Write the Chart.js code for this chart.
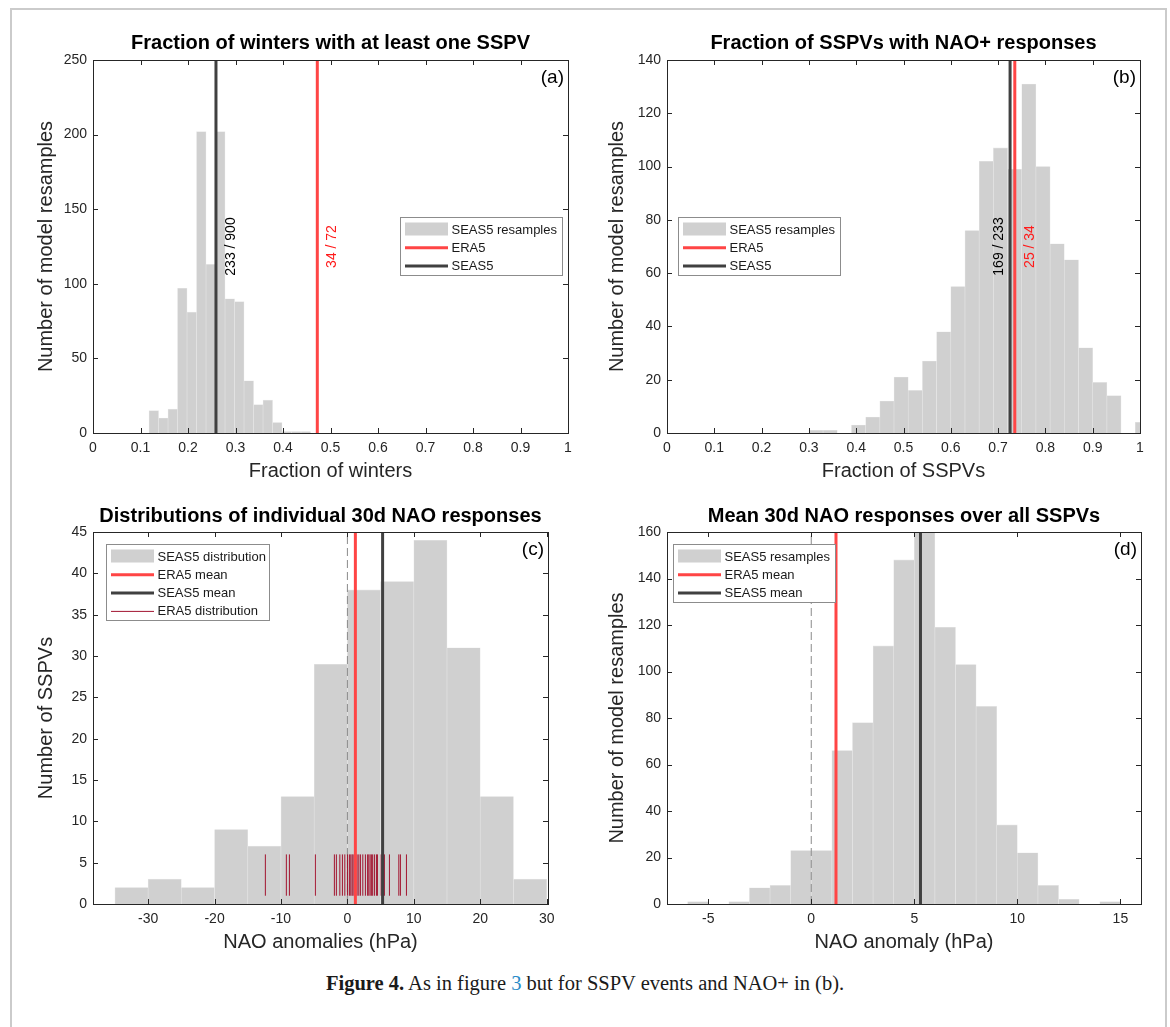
<!DOCTYPE html>
<html>
<head>
<meta charset="utf-8">
<script src="https://cdn.jsdelivr.net/npm/chart.js@4.4.1/dist/chart.umd.min.js"></script>
<style>
  body { margin: 0; width: 1170px; height: 1027px; background: #fff; position: relative; overflow: hidden; }
  #frame { position: absolute; left: 10px; top: 8px; width: 1157px; height: 1040px; border: 2px solid #cbcbcb; box-sizing: border-box; }
  canvas { position: absolute; }
  #caption { position: absolute; left: 0; top: 971px; width: 1170px; text-align: center;
             font-family: "Liberation Serif", "Times New Roman", serif; font-size: 20.5px; line-height: 24px; color: #1a1a1a; }
  #caption .ref { color: #2a8bc8; }
</style>
</head>
<body>
<div id="frame"></div>
<canvas id="pa"></canvas>
<canvas id="pb"></canvas>
<canvas id="pc"></canvas>
<canvas id="pd"></canvas>
<div id="caption"><b>Figure 4.</b> As in figure <span class="ref">3</span> but for SSPV events and NAO+ in (b).</div>

<script>
// (a) winters with at least one SSPV, 1000 model resamples
const winterBinStart = 0.118, winterBinWidth = 0.02;
const winterCounts = [15, 10, 16, 97, 81, 202, 113, 202, 90, 88, 35, 19, 22, 7, 1, 1, 1];
const winterEra5 = [34, 72];
const winterSeas5 = [233, 900];

// (b) SSPVs followed by NAO+
const naoPlusBinStart = 0.30, naoPlusBinWidth = 0.03;
const naoPlusCounts = [1, 1, 0, 3, 6, 12, 21, 16, 27, 38, 55, 76, 102, 107, 99, 131, 100, 71, 65, 32, 19, 14, 0, 4];
const naoPlusEra5 = [25, 34];
const naoPlusSeas5 = [169, 233];

// (c) individual 30d NAO responses (hPa)
const indivBinStart = -35, indivBinWidth = 5;
const indivCounts = [2, 3, 2, 9, 7, 13, 29, 38, 39, 44, 31, 13, 3];
const era5Responses = [-12.35, -9.19, -8.73, -4.82, -1.96, -1.66, -1.14, -0.75, -0.39, 0.02,
  0.30, 0.51, 0.71, 0.86, 1.23, 1.46, 1.72, 1.96, 2.32, 2.71, 3.04, 3.22, 3.42, 3.61,
  3.80, 4.07, 4.37, 4.52, 5.08, 5.57, 6.33, 7.74, 7.98, 8.89];

// (d) mean 30d NAO response over all SSPVs (hPa)
const meanBinStart = -6, meanBinWidth = 1;
const meanCounts = [1, 0, 1, 7, 8, 23, 23, 66, 78, 111, 148, 160, 119, 103, 85, 34, 22, 8, 2, 0, 1];
const era5MeanNao = 1.2;
const seas5MeanNao = 5.3;

// axis ticks
const fracTicks = [0, 0.1, 0.2, 0.3, 0.4, 0.5, 0.6, 0.7, 0.8, 0.9, 1];
const winterCountTicks = [0, 50, 100, 150, 200, 250];
const naoPlusCountTicks = [0, 20, 40, 60, 80, 100, 120, 140];
const indivTicks = [-30, -20, -10, 0, 10, 20, 30];
const indivCountTicks = [0, 5, 10, 15, 20, 25, 30, 35, 40, 45];
const meanTicks = [-5, 0, 5, 10, 15];
const meanCountTicks = [0, 20, 40, 60, 80, 100, 120, 140, 160];

const FONT = '"Liberation Sans", Arial, Helvetica, sans-serif';
const GREY = '#d0d0d0', RED = '#ff4545', DARK = '#404040', CRIMSON = '#a2142f';

Chart.defaults.font.family = FONT;
Chart.defaults.color = '#262626';

function binned(start, width, counts) {
  return counts.map((c, i) => ({x: start + (i + 0.5) * width, y: c}));
}

function histogram(start, width, counts) {
  return {type: 'bar', data: binned(start, width, counts), backgroundColor: GREY,
    borderColor: '#e6e6e6', borderWidth: 0.6, borderSkipped: 'bottom',
    barPercentage: 1, categoryPercentage: 1, order: 10};
}

function vline(v, ymax, color, width, order, dash) {
  return {type: 'line', data: [{x: v, y: 0}, {x: v, y: ymax}], borderColor: color,
    borderWidth: width, borderDash: dash || [], pointRadius: 0, fill: false, order};
}

function rug(values, lo, hi) {
  const pts = [];
  values.forEach(v => pts.push({x: v, y: lo}, {x: v, y: hi}, {x: v, y: null}));
  return {type: 'line', data: pts, borderColor: CRIMSON, borderWidth: 1, pointRadius: 0,
    spanGaps: false, fill: false, order: 3};
}

const ratio = p => p[0] / p[1];
const ratioText = p => p[0] + ' / ' + p[1];

function buildPanel(id, s) {
  const cv = document.getElementById(id);
  const W = s.box.w, H = s.box.h;
  cv.width = W; cv.height = H;
  cv.style.left = s.box.left + 'px';
  cv.style.top = s.box.top + 'px';
  const a = {l: s.area.l - s.box.left, t: s.area.t - s.box.top, r: s.area.r - s.box.left, b: s.area.b - s.box.top};
  const titleY = s.titleY - s.box.top;
  const xTitleY = s.xTitleY - s.box.top;
  const yTitleX = s.yTitleX - s.box.left;

  // axes box, inward ticks, legend, panel letter, rotated count labels
  const decor = {
    id: 'decor',
    afterDraw(chart) {
      const ctx = chart.ctx, ca = chart.chartArea, xs = chart.scales.x, ys = chart.scales.y;
      ctx.save();

      (s.tags || []).forEach(t => {
        const x = xs.getPixelForValue(t.value) + t.dx;
        const y = ys.getPixelForValue(ys.max / 2);
        ctx.save();
        ctx.translate(x, y);
        ctx.rotate(-Math.PI / 2);
        ctx.font = '14px ' + FONT;
        ctx.fillStyle = t.color;
        ctx.textAlign = 'center';
        ctx.textBaseline = 'middle';
        ctx.fillText(t.text, 0, 0);
        ctx.restore();
      });

      ctx.strokeStyle = '#262626';
      ctx.lineWidth = 1;
      ctx.beginPath();
      xs.ticks.forEach(t => {
        const px = Math.round(xs.getPixelForValue(t.value)) + 0.5;
        ctx.moveTo(px, ca.bottom); ctx.lineTo(px, ca.bottom - 5);
        ctx.moveTo(px, ca.top); ctx.lineTo(px, ca.top + 5);
      });
      ys.ticks.forEach(t => {
        const py = Math.round(ys.getPixelForValue(t.value)) + 0.5;
        ctx.moveTo(ca.left, py); ctx.lineTo(ca.left + 5, py);
        ctx.moveTo(ca.right, py); ctx.lineTo(ca.right - 5, py);
      });
      ctx.stroke();
      ctx.strokeRect(ca.left + 0.5, ca.top + 0.5, ca.right - ca.left, ca.bottom - ca.top);

      const lg = s.legend;
      const lx = Math.round(lg.x - s.box.left), ly = Math.round(lg.y - s.box.top);
      ctx.fillStyle = '#fff';
      ctx.fillRect(lx, ly, lg.w, lg.h);
      ctx.strokeStyle = '#8c8c8c';
      ctx.lineWidth = 1;
      ctx.strokeRect(lx + 0.5, ly + 0.5, lg.w, lg.h);
      ctx.font = '13px ' + FONT;
      ctx.textAlign = 'left';
      ctx.textBaseline = 'middle';
      lg.items.forEach((it, i) => {
        const cy = ly + 12.5 + i * 18.3;
        if (it.patch) {
          ctx.fillStyle = it.color;
          ctx.fillRect(lx + 5, cy - 7, 43, 13);
        } else {
          ctx.strokeStyle = it.color;
          ctx.lineWidth = it.width;
          ctx.beginPath();
          ctx.moveTo(lx + 5, cy); ctx.lineTo(lx + 48, cy);
          ctx.stroke();
        }
        ctx.fillStyle = '#1a1a1a';
        ctx.fillText(it.label, lx + 51.5, cy + 0.5);
      });

      ctx.font = '19px ' + FONT;
      ctx.textAlign = 'right';
      ctx.fillStyle = '#000';
      ctx.fillText(s.letter, ca.right - 4, ca.top + 18);
      ctx.restore();
    }
  };

  const fmt = v => String(+Number(v).toFixed(2));

  return new Chart(cv, {
    type: 'bar',
    data: {datasets: s.datasets},
    options: {
      responsive: false,
      animation: false,
      events: [],
      layout: {padding: {left: 0, top: 0, right: W - a.r, bottom: 0}},
      plugins: {
        legend: {display: false},
        tooltip: {enabled: false},
        title: {
          display: true, fullSize: false, text: s.title, color: '#000',
          font: {size: 20, weight: 'bold', lineHeight: '24px'},
          padding: {top: titleY - 12, bottom: a.t - titleY - 12}
        }
      },
      scales: {
        x: {
          type: 'linear', min: s.xMin, max: s.xMax, offset: false,
          grid: {display: false, drawTicks: false}, border: {display: false},
          afterBuildTicks: sc => { sc.ticks = s.xTicks.map(v => ({value: v})); },
          afterFit: sc => { sc.height = H - a.b; },
          ticks: {autoSkip: false, maxRotation: 0, padding: 7, font: {size: 14}, color: '#262626', callback: fmt},
          title: {display: true, text: s.xTitle, color: '#262626', font: {size: 20, lineHeight: '24px'},
                  padding: {top: 0, bottom: H - xTitleY - 12}}
        },
        y: {
          type: 'linear', min: 0, max: s.yMax,
          grid: {display: false, drawTicks: false}, border: {display: false},
          afterBuildTicks: sc => { sc.ticks = s.yTicks.map(v => ({value: v})); },
          afterFit: sc => { sc.width = a.l; },
          ticks: {autoSkip: false, padding: 6, font: {size: 14}, color: '#262626', callback: fmt},
          title: {display: true, text: s.yTitle, color: '#262626', font: {size: 20, lineHeight: '24px'},
                  padding: {top: yTitleX - 12, bottom: 0}}
        }
      }
    },
    plugins: [decor]
  });
}

buildPanel('pa', {
  box: {left: 14, top: 14, w: 576, h: 473},
  area: {l: 93, t: 60, r: 568, b: 433},
  titleY: 43, xTitleY: 471, yTitleX: 46,
  title: 'Fraction of winters with at least one SSPV',
  xTitle: 'Fraction of winters', yTitle: 'Number of model resamples',
  xMin: 0, xMax: 1, yMax: 250, xTicks: fracTicks, yTicks: winterCountTicks,
  letter: '(a)',
  datasets: [
    histogram(winterBinStart, winterBinWidth, winterCounts),
    vline(ratio(winterEra5), 250, RED, 3, 2),
    vline(ratio(winterSeas5), 250, DARK, 3, 1)
  ],
  tags: [
    {value: ratio(winterSeas5), text: ratioText(winterSeas5), color: '#000', dx: 15},
    {value: ratio(winterEra5), text: ratioText(winterEra5), color: '#ff1a1a', dx: 15}
  ],
  legend: {x: 399.5, y: 217, w: 162, h: 58, items: [
    {label: 'SEAS5 resamples', patch: true, color: GREY},
    {label: 'ERA5', color: RED, width: 3},
    {label: 'SEAS5', color: DARK, width: 3}
  ]}
});

buildPanel('pb', {
  box: {left: 590, top: 14, w: 572, h: 473},
  area: {l: 667, t: 60, r: 1140, b: 433},
  titleY: 43, xTitleY: 471, yTitleX: 617,
  title: 'Fraction of SSPVs with NAO+ responses',
  xTitle: 'Fraction of SSPVs', yTitle: 'Number of model resamples',
  xMin: 0, xMax: 1, yMax: 140, xTicks: fracTicks, yTicks: naoPlusCountTicks,
  letter: '(b)',
  datasets: [
    histogram(naoPlusBinStart, naoPlusBinWidth, naoPlusCounts),
    vline(ratio(naoPlusEra5), 140, RED, 3, 2),
    vline(ratio(naoPlusSeas5), 140, DARK, 3, 1)
  ],
  tags: [
    {value: ratio(naoPlusSeas5), text: ratioText(naoPlusSeas5), color: '#000', dx: -11},
    {value: ratio(naoPlusEra5), text: ratioText(naoPlusEra5), color: '#ff1a1a', dx: 15}
  ],
  legend: {x: 678, y: 217, w: 162, h: 58, items: [
    {label: 'SEAS5 resamples', patch: true, color: GREY},
    {label: 'ERA5', color: RED, width: 3},
    {label: 'SEAS5', color: DARK, width: 3}
  ]}
});

buildPanel('pc', {
  box: {left: 14, top: 487, w: 576, h: 480},
  area: {l: 93, t: 532, r: 548, b: 904},
  titleY: 516, xTitleY: 942, yTitleX: 46,
  title: 'Distributions of individual 30d NAO responses',
  xTitle: 'NAO anomalies (hPa)', yTitle: 'Number of SSPVs',
  xMin: -38.3, xMax: 30.2, yMax: 45, xTicks: indivTicks, yTicks: indivCountTicks,
  letter: '(c)',
  datasets: [
    histogram(indivBinStart, indivBinWidth, indivCounts),
    vline(0, 45, '#8a8a8a', 1, 4, [8, 4]),
    rug(era5Responses, 1, 6),
    vline(era5MeanNao, 45, RED, 3, 2),
    vline(seas5MeanNao, 45, DARK, 3, 1)
  ],
  legend: {x: 105.5, y: 543.5, w: 163, h: 76, items: [
    {label: 'SEAS5 distribution', patch: true, color: GREY},
    {label: 'ERA5 mean', color: RED, width: 3},
    {label: 'SEAS5 mean', color: DARK, width: 3},
    {label: 'ERA5 distribution', color: CRIMSON, width: 1}
  ]}
});

buildPanel('pd', {
  box: {left: 590, top: 487, w: 572, h: 480},
  area: {l: 667, t: 532, r: 1141, b: 904},
  titleY: 516, xTitleY: 942, yTitleX: 617,
  title: 'Mean 30d NAO responses over all SSPVs',
  xTitle: 'NAO anomaly (hPa)', yTitle: 'Number of model resamples',
  xMin: -7, xMax: 16, yMax: 160, xTicks: meanTicks, yTicks: meanCountTicks,
  letter: '(d)',
  datasets: [
    histogram(meanBinStart, meanBinWidth, meanCounts),
    vline(0, 160, '#8a8a8a', 1, 4, [8, 4]),
    vline(era5MeanNao, 160, RED, 3, 2),
    vline(seas5MeanNao, 160, DARK, 3, 1)
  ],
  legend: {x: 673, y: 543.5, w: 162, h: 58, items: [
    {label: 'SEAS5 resamples', patch: true, color: GREY},
    {label: 'ERA5 mean', color: RED, width: 3},
    {label: 'SEAS5 mean', color: DARK, width: 3}
  ]}
});
</script>
</body>
</html>
